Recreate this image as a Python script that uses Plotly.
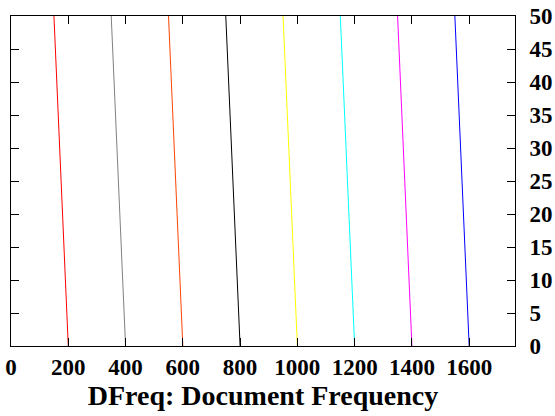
import plotly.graph_objects as go

x_at_0 = [200, 400, 600, 800, 1000, 1200, 1400, 1600]
x_at_50 = [150, 350, 550, 750, 950, 1150, 1350, 1550]
y_ends = [0, 50]
colors = ["#ff0000", "#808080", "#ff4500", "#000000", "#ffff00", "#00ffff", "#ff00ff", "#0000ff"]
x_ticks = [0, 200, 400, 600, 800, 1000, 1200, 1400, 1600]
y_ticks = [0, 5, 10, 15, 20, 25, 30, 35, 40, 45, 50]

fig = go.Figure()
for xb, xt, c in zip(x_at_0, x_at_50, colors):
    fig.add_trace(go.Scatter(x=[xb, xt], y=y_ends, mode="lines",
                             line=dict(color=c, width=1), showlegend=False,
                             hoverinfo="skip"))

font = dict(family="Liberation Serif, Times New Roman, serif", color="black")
fig.update_layout(
    width=555, height=416,
    margin=dict(l=11, r=40, t=16, b=70),
    plot_bgcolor="white", paper_bgcolor="white",
    font=font,
    xaxis=dict(range=[0, 1760], tickvals=x_ticks, ticktext=[f"<b>{v}</b>" for v in x_ticks],
               ticks="inside", ticklen=8, tickcolor="black", showline=True,
               linecolor="black", linewidth=1, mirror="ticks", showgrid=False,
               zeroline=False, tickfont=dict(size=23, **font), automargin=False,
               ticklabelstandoff=0,
               title=dict(text="<b>DFreq: Document Frequency</b>", font=dict(size=28, **font),
                          standoff=3)),
    yaxis=dict(range=[0, 50], tickvals=y_ticks, ticktext=[f"<b>{v}</b>" for v in y_ticks],
               side="right", ticks="inside", ticklen=8, tickcolor="black", showline=True,
               linecolor="black", linewidth=1, mirror="ticks", showgrid=False,
               zeroline=False, tickfont=dict(size=23, **font), automargin=False,
               ticklabelstandoff=9),
)
fig.write_html("out.html", config={"displayModeBar": False},
               post_script="document.body.style.margin='0';document.body.style.overflow='hidden';")
